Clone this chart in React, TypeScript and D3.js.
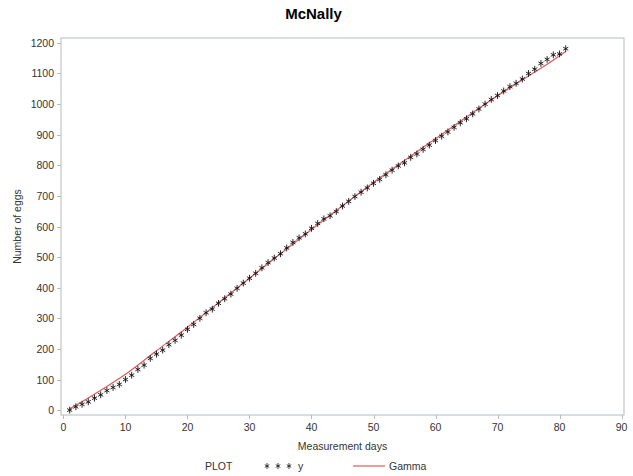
import React from "react";
import * as d3 from "d3";

// observed egg counts, day 1..81
const days = d3.range(1, 82);
const eggs = [
  0, 11, 19, 27, 39, 50, 64, 74, 84, 100,
  114, 133, 147, 169, 183, 196, 214, 228, 245, 264,
  280, 300, 318, 330, 349, 364, 379, 398, 415, 431,
  447, 465, 482, 497, 511, 530, 548, 563, 576, 594,
  610, 625, 635, 649, 667, 682, 698, 712, 726, 741,
  754, 769, 784, 798, 808, 826, 837, 852, 866, 881,
  895, 909, 924, 939, 952, 968, 984, 1000, 1015, 1028,
  1043, 1057, 1068, 1082, 1100, 1114, 1133, 1146, 1161, 1164,
  1181,
];

// fitted Gamma curve read at a few days
const gammaDays = [1, 5, 10, 15, 20, 25, 30, 35, 40, 45, 50, 55, 60, 65, 70, 75, 78, 81];
const gammaVals = [4, 52, 117, 194, 271, 351, 431, 511, 590, 668, 744, 816, 887, 958, 1027, 1092, 1130, 1172];

const xTicks = d3.range(0, 91, 10);
const yTicks = d3.range(0, 1201, 100);

const W = 633;
const H = 476;
const frame = { left: 61, right: 624, top: 38, bottom: 415 };

const font = "Arial, 'Liberation Sans', sans-serif";
const axisColor = "#b4bcc0";
const textColor = "#333";

function star(cx: number, cy: number, r: number) {
  const d = r * 0.75;
  return `M${cx},${cy - r}V${cy + r}M${cx - d},${cy - d * 0.6}L${cx + d},${cy + d * 0.6}M${cx - d},${cy + d * 0.6}L${cx + d},${cy - d * 0.6}`;
}

export default function App() {
  const x = d3.scaleLinear().domain([-0.4, 90.4]).range([frame.left, frame.right]);
  const y = d3.scaleLinear().domain([-16, 1216]).range([frame.bottom, frame.top]);

  const gammaLine = d3
    .line<number>()
    .x((_, i) => x(gammaDays[i]))
    .y((d) => y(d))
    .curve(d3.curveMonotoneX);

  return (
    <svg width={W} height={H} style={{ position: "absolute", left: 0, top: 0, background: "#fff" }}
      fontFamily={font}>
      <text x={W / 2 - 3} y={19} textAnchor="middle" fontSize={15} fontWeight="bold" fill="#000">
        McNally
      </text>

      {/* frame */}
      <rect x={frame.left} y={frame.top} width={frame.right - frame.left} height={frame.bottom - frame.top}
        fill="none" stroke={axisColor} strokeWidth={1} />

      {/* y axis */}
      {yTicks.map((t) => (
        <g key={t}>
          <line x1={frame.left - 4} x2={frame.left} y1={Math.round(y(t)) + 0.5} y2={Math.round(y(t)) + 0.5}
            stroke={axisColor} />
          <text x={frame.left - 7} y={y(t) + 4} textAnchor="end" fontSize={10.5} fill={textColor}>{t}</text>
        </g>
      ))}
      <text transform={`translate(21,${(frame.top + frame.bottom) / 2}) rotate(-90)`} textAnchor="middle"
        fontSize={10.5} fill={textColor}>Number of eggs</text>

      {/* x axis */}
      {xTicks.map((t) => (
        <g key={t}>
          <line x1={Math.round(x(t)) + 0.5} x2={Math.round(x(t)) + 0.5} y1={frame.bottom} y2={frame.bottom + 4}
            stroke={axisColor} />
          <text x={x(t)} y={frame.bottom + 16} textAnchor="middle" fontSize={10.5} fill={textColor}>{t}</text>
        </g>
      ))}
      <text x={(frame.left + frame.right) / 2} y={450} textAnchor="middle" fontSize={10.5} fill={textColor}>
        Measurement days
      </text>

      {/* gamma fit */}
      <path d={gammaLine(gammaVals) || ""} fill="none" stroke="#e05a5a" strokeWidth={1.2} />

      {/* observations */}
      {eggs.map((v, i) => (
        <path key={i} d={star(x(days[i]), y(v), 3.4)} stroke="#111" strokeWidth={0.9} fill="none" />
      ))}

      {/* legend */}
      <text x={205} y={470} fontSize={10.5} fill={textColor}>PLOT</text>
      {[267, 278, 289].map((cx) => (
        <path key={cx} d={star(cx, 466, 3)} stroke="#111" strokeWidth={0.8} fill="none" />
      ))}
      <text x={298} y={470} fontSize={10.5} fill={textColor}>y</text>
      <line x1={353} x2={385} y1={466} y2={466} stroke="#e05a5a" strokeWidth={1.2} />
      <text x={389} y={470} fontSize={10.5} fill={textColor}>Gamma</text>
    </svg>
  );
}
